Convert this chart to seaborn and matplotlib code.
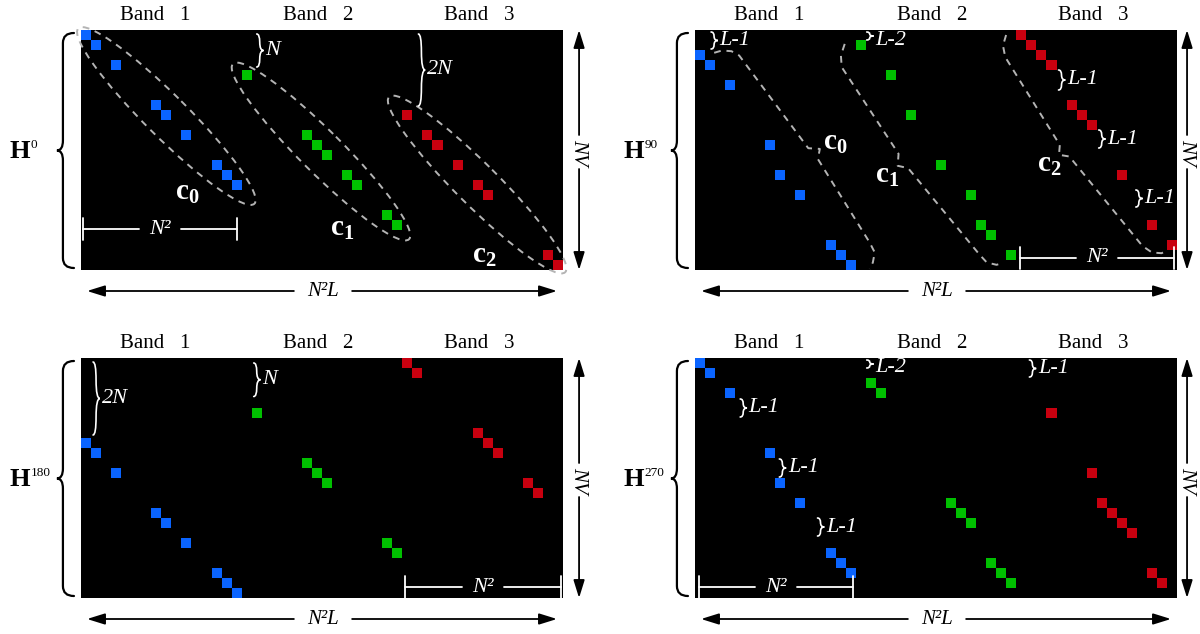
import numpy as np
import matplotlib
matplotlib.use('Agg')
import matplotlib.pyplot as plt
import seaborn as sns
from matplotlib.colors import ListedColormap
from matplotlib.path import Path
from matplotlib.patches import PathPatch, Ellipse

sns.set_theme(style='white')
plt.rcParams['font.family'] = ['Liberation Serif', 'DejaVu Serif']
plt.rcParams['mathtext.fontset'] = 'custom'
plt.rcParams['mathtext.rm'] = 'Liberation Serif'
plt.rcParams['mathtext.it'] = 'Liberation Serif:italic'
plt.rcParams['mathtext.bf'] = 'Liberation Serif:bold'

# ---------------- data ----------------
N_COLS, N_ROWS = 48, 24
band_labels = ['Band   1', 'Band   2', 'Band   3']
band_centers = [7.4, 23.6, 39.7]

blue_cols = [0, 1, 3, 7, 8, 10, 13, 14, 15]

h0_blue_rows = [0, 1, 3, 7, 8, 10, 13, 14, 15]
h0_green_cols = [16, 22, 23, 24, 26, 27, 30, 31]
h0_green_rows = [4, 10, 11, 12, 14, 15, 18, 19]
h0_red_cols = [32, 34, 35, 37, 39, 40, 46, 47]
h0_red_rows = [8, 10, 11, 13, 15, 16, 22, 23]

h90_blue_rows = [2, 3, 5, 11, 14, 16, 21, 22, 23]
h90_green_cols = [16, 19, 21, 24, 27, 28, 29, 31]
h90_green_rows = [1, 4, 8, 13, 16, 19, 20, 22]
h90_red_cols = [32, 33, 34, 35, 37, 38, 39, 42, 45, 47]
h90_red_rows = [0, 1, 2, 3, 7, 8, 9, 14, 19, 21]

h180_blue_rows = [8, 9, 11, 15, 16, 18, 21, 22, 23]
h180_green_cols = [17, 22, 23, 24, 30, 31]
h180_green_rows = [5, 10, 11, 12, 18, 19]
h180_red_cols = [32, 33, 39, 40, 41, 44, 45]
h180_red_rows = [0, 1, 7, 8, 9, 12, 13]

h270_blue_rows = [0, 1, 3, 9, 12, 14, 19, 20, 21]
h270_green_cols = [17, 18, 25, 26, 27, 29, 30, 31]
h270_green_rows = [2, 3, 14, 15, 16, 20, 21, 22]
h270_red_cols = [35, 39, 40, 41, 42, 43, 45, 46]
h270_red_rows = [5, 11, 14, 15, 16, 17, 21, 22]

panel_names = ['0', '90', '180', '270']
panel_data = {
    '0': (h0_blue_rows, h0_green_cols, h0_green_rows, h0_red_cols, h0_red_rows),
    '90': (h90_blue_rows, h90_green_cols, h90_green_rows, h90_red_cols, h90_red_rows),
    '180': (h180_blue_rows, h180_green_cols, h180_green_rows, h180_red_cols, h180_red_rows),
    '270': (h270_blue_rows, h270_green_cols, h270_green_rows, h270_red_cols, h270_red_rows),
}

# ---------------- style ----------------
BLUE, GREEN, RED = '#0a64ff', '#00c000', '#c8000f'
cmap = ListedColormap(['black', BLUE, GREEN, RED])
DASH = '#b4b4b4'
W_PX, H_PX = 482, 240
panel_px = {'0': (81, 30), '90': (695, 30), '180': (81, 358), '270': (695, 358)}
arrow_x = {'0': 49.6, '90': 49.0, '180': 49.6, '270': 49.0}

fig = plt.figure(figsize=(12, 6.34), dpi=100)


def brace(ax, x, y1, y2, tip, end, color, lw, r=None):
    ym = (y1 + y2) / 2
    if r is None:
        r = (y2 - y1) / 4
    verts = [(x + end, y1), (x, y1), (x, y1 + r), (x, ym - r), (x, ym), (x + tip, ym),
             (x, ym), (x, ym + r), (x, y2 - r), (x, y2), (x + end, y2)]
    codes = [Path.MOVETO, Path.CURVE3, Path.CURVE3, Path.LINETO, Path.CURVE3, Path.CURVE3,
             Path.CURVE3, Path.CURVE3, Path.LINETO, Path.CURVE3, Path.CURVE3]
    ax.add_patch(PathPatch(Path(verts, codes), fill=False, ec=color, lw=lw, clip_on=False,
                           capstyle='round'))


def small_brace(ax, x, y1, y2, label, ly=None):
    brace(ax, x, y1, y2, 0.38, -0.3, 'white', 1.2)
    ax.text(x + 0.55, (y1 + y2) / 2 if ly is None else ly, label, color='white',
            fontsize=16, fontstyle='italic', ha='left', va='center')


def n2_bar(ax, x1, x2, y):
    xm = (x1 + x2) / 2
    gap = 2.1
    ax.plot([x1, xm - gap], [y, y], color='white', lw=1.3)
    ax.plot([xm + gap, x2], [y, y], color='white', lw=1.3)
    ax.plot([x1, x1], [y - 1.1, y + 1.1], color='white', lw=1.3)
    ax.plot([x2, x2], [y - 1.1, y + 1.1], color='white', lw=1.3)
    ax.text(xm, y, 'N²', color='white', fontsize=16, fontstyle='italic', ha='center', va='center')


def c_label(ax, x, y, k):
    ax.text(x, y, r'$\mathbf{c}_{\mathbf{%d}}$' % k, color='white', fontsize=21,
            ha='center', va='center')


def dashed_path(ax, pts):
    xs, ys = zip(*pts)
    ax.plot(xs, ys, color=DASH, lw=1.4, ls=(0, (3.5, 3)), clip_on=False)


def arrow(ax, p_from, p_to):
    ax.annotate('', xy=p_to, xytext=p_from, annotation_clip=False,
                arrowprops=dict(arrowstyle='-|>,head_length=0.9,head_width=0.28',
                                color='black', lw=1.3, shrinkA=0, shrinkB=0))


for name in panel_names:
    px, py = panel_px[name]
    ax = fig.add_axes([px / 1200, 1 - (py + H_PX) / 634, W_PX / 1200, H_PX / 634])
    b_rows, g_cols, g_rows, r_cols, r_rows = panel_data[name]
    mat = np.zeros((N_ROWS, N_COLS))
    for c, r in zip(blue_cols, b_rows):
        mat[r, c] = 1
    for c, r in zip(g_cols, g_rows):
        mat[r, c] = 2
    for c, r in zip(r_cols, r_rows):
        mat[r, c] = 3
    sns.heatmap(mat, cmap=cmap, vmin=-0.5, vmax=3.5, cbar=False, ax=ax,
                xticklabels=False, yticklabels=False, linewidths=0)
    ax.set_xticks([])
    ax.set_yticks([])

    # band labels
    for lab, xc in zip(band_labels, band_centers):
        ax.text(xc, -1.5, lab, fontsize=15, ha='center', va='center', color='black')

    # left big brace and H label
    brace(ax, -1.8, 0.3, 23.8, -0.6, 1.1, 'black', 1.6, r=1.0)
    ax.text(-7.1, 12.2, 'H', fontsize=19, fontweight='bold', ha='left', va='center', color='black')
    ax.text(-5.0, 11.5, name, fontsize=9.5, ha='left', va='center', color='black')

    # right vertical arrow with NV
    ax_x = arrow_x[name]
    arrow(ax, (ax_x, 10.5), (ax_x, 0.0))
    arrow(ax, (ax_x, 13.9), (ax_x, 24.0))
    ax.text(ax_x, 12.2, 'NV', fontsize=15, fontstyle='italic', rotation=-90,
            ha='center', va='center', color='black')

    # bottom horizontal arrow with N^2L
    arrow(ax, (21.2, 26.1), (0.6, 26.1))
    arrow(ax, (27.0, 26.1), (47.4, 26.1))
    ax.text(24.1, 26.1, 'N²L', fontsize=15, fontstyle='italic', ha='center', va='center',
            color='black')

    if name == '0':
        for (cx, cy, k, lx, ly) in [(8.5, 8.6, 0, 10.6, 16.3), (23.9, 12.15, 1, 26.0, 19.9),
                                     (39.45, 15.45, 2, 40.2, 22.6)]:
            ax.add_patch(Ellipse((cx, cy), 24.8, 4.2, angle=45, fill=False, ec=DASH, lw=1.4,
                                 ls=(0, (3.5, 3)), clip_on=False))
            c_label(ax, lx, ly, k)
        small_brace(ax, 17.8, 0.4, 3.7, 'N')
        small_brace(ax, 33.9, 0.4, 7.6, '2N')
        n2_bar(ax, 0.2, 15.5, 19.9)
    elif name == '90':
        dashed_path(ax, [(1.91, 2.28), (2.68, 2.05), (3.63, 2.12), (4.40, 2.55), (11.28, 11.82),
                         (12.43, 11.89), (12.24, 12.91), (17.40, 21.26), (17.90, 22.25),
                         (17.71, 23.25), (17.40, 23.9)])
        dashed_path(ax, [(14.91, 1.39), (14.53, 2.55), (14.61, 3.71), (20.27, 12.38),
                         (20.19, 13.58), (21.22, 13.81), (28.30, 22.42), (29.06, 23.25),
                         (30.02, 23.48), (30.67, 23.31)])
        dashed_path(ax, [(30.98, 0.5), (30.67, 1.56), (30.9, 2.72), (36.33, 11.49),
                         (36.25, 12.48), (37.28, 12.65), (44.55, 21.59), (45.51, 22.25),
                         (46.46, 22.32), (46.96, 22.09)])
        c_label(ax, 14.0, 11.3, 0)
        c_label(ax, 19.1, 14.6, 1)
        c_label(ax, 35.3, 13.5, 2)
        small_brace(ax, 1.9, 0.2, 1.9, 'L-1')
        small_brace(ax, 17.4, 0.2, 1.0, 'L-2', ly=1.05)
        small_brace(ax, 36.5, 4.0, 6.0, 'L-1')
        small_brace(ax, 40.5, 10.0, 11.8, 'L-1')
        small_brace(ax, 44.2, 16.0, 17.7, 'L-1')
        n2_bar(ax, 32.4, 47.7, 22.8)
    elif name == '180':
        small_brace(ax, 1.5, 0.4, 7.7, '2N')
        small_brace(ax, 17.5, 0.5, 3.85, 'N')
        n2_bar(ax, 32.3, 47.8, 22.9)
    else:
        small_brace(ax, 17.4, 0.2, 1.0, 'L-2', ly=0.95)
        small_brace(ax, 33.6, 0.2, 1.9, 'L-1')
        small_brace(ax, 4.8, 4.1, 5.9, 'L-1')
        small_brace(ax, 8.7, 10.1, 11.9, 'L-1')
        small_brace(ax, 12.5, 16.0, 17.8, 'L-1')
        n2_bar(ax, 0.4, 15.7, 22.9)

fig.savefig('out.png', dpi=100, facecolor='white')
